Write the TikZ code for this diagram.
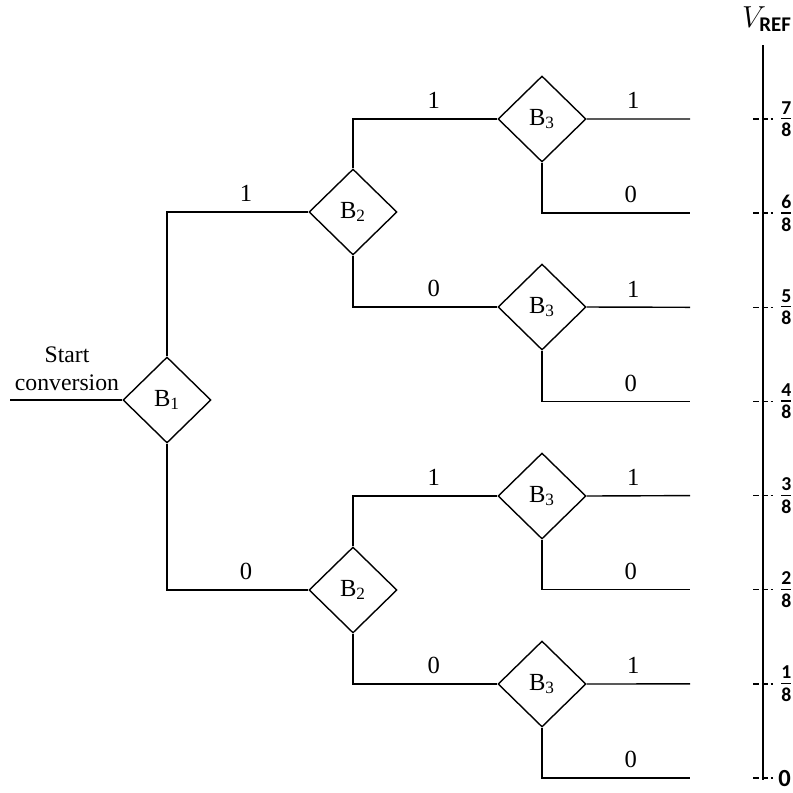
\documentclass[tikz,border=0pt]{standalone}
\usepackage{amsmath}
\usepackage{fontspec}
\setmainfont{Liberation Serif}
\newfontfamily\scalefont{Carlito}
\usetikzlibrary{shapes.geometric}
\newcommand{\eighth}[1]{$\frac{\text{\scalefont\bfseries #1}}{\text{\scalefont\bfseries 8}}$}
\begin{document}
\begin{tikzpicture}[x=0.02cm,y=-0.02cm,
  bitbox/.style={draw,thick,shape=diamond,inner sep=0pt,minimum width=1.76cm,minimum height=1.72cm,font=\fontsize{14}{16}\selectfont},
  wire/.style={thick},
  bitlabel/.style={font=\fontsize{14}{16}\selectfont,above=2pt},
  tick/.style={thick,dash pattern=on 3.5pt off 1.5pt}]
 \useasboundingbox (0,0) rectangle (793,792);
 % decision boxes
 \node[bitbox] (b1) at (167,400) {B\textsubscript{1}};
 \node[bitbox] (b2u) at (353,212) {B\textsubscript{2}};
 \node[bitbox] (b2l) at (353,590) {B\textsubscript{2}};
 \node[bitbox] (b3a) at (542,119) {B\textsubscript{3}};
 \node[bitbox] (b3b) at (542,307) {B\textsubscript{3}};
 \node[bitbox] (b3c) at (542,496) {B\textsubscript{3}};
 \node[bitbox] (b3d) at (542,684) {B\textsubscript{3}};
 % start
 \coordinate (in) at (10,400);
 \draw[wire] (in) -- (b1.west);
 \node[align=center,font=\fontsize{13.5}{16}\selectfont] (start) at (67,369) {Start\\conversion};
 % first level
 \draw[wire] (b1.north) |- (b2u.west) node[bitlabel,pos=0.78] {1};
 \draw[wire] (b1.south) |- (b2l.west) node[bitlabel,pos=0.78] {0};
 % second level
 \draw[wire] (b2u.north) |- (b3a.west) node[bitlabel,pos=0.78] {1};
 \draw[wire] (b2u.south) |- (b3b.west) node[bitlabel,pos=0.78] {0};
 \draw[wire] (b2l.north) |- (b3c.west) node[bitlabel,pos=0.78] {1};
 \draw[wire] (b2l.south) |- (b3d.west) node[bitlabel,pos=0.78] {0};
 % outputs
 \foreach \b/\k in {b3a/7,b3b/5,b3c/3,b3d/1}{
  \pgfmathsetmacro{\yhi}{778-\k*94.14}
  \pgfmathsetmacro{\ylo}{778-(\k-1)*94.14}
  \coordinate (\b-hi) at (690,\yhi);
  \coordinate (\b-lo) at (690,\ylo);
  \draw[wire] (\b.east) -- (\b-hi) node[bitlabel,pos=0.45] {1};
  \draw[wire] (\b.south) |- (\b-lo) node[bitlabel,pos=0.8] {0};
 }
 % reference scale
 \coordinate (top) at (763,45);
 \coordinate (bot) at (763,780);
 \draw[very thick] (top) -- (bot);
 \node[font=\fontsize{17}{20}\selectfont] (vref) at (767,19) {$V_{\text{\scalefont\bfseries REF}}$};
 \foreach \k in {1,...,7}{
  \draw[tick] (753,778-\k*94.14) -- (773,778-\k*94.14);
  \node[anchor=west,inner sep=0pt,font=\fontsize{16}{18}\selectfont] (f\k) at (779,778-\k*94.14) {\eighth{\k}};
 }
 \draw[tick] (753,778) -- (773,778);
 \node[anchor=west,inner sep=0pt,font=\fontsize{14}{16}\selectfont\scalefont\bfseries] (f0) at (778,778) {0};
\end{tikzpicture}
\end{document}
